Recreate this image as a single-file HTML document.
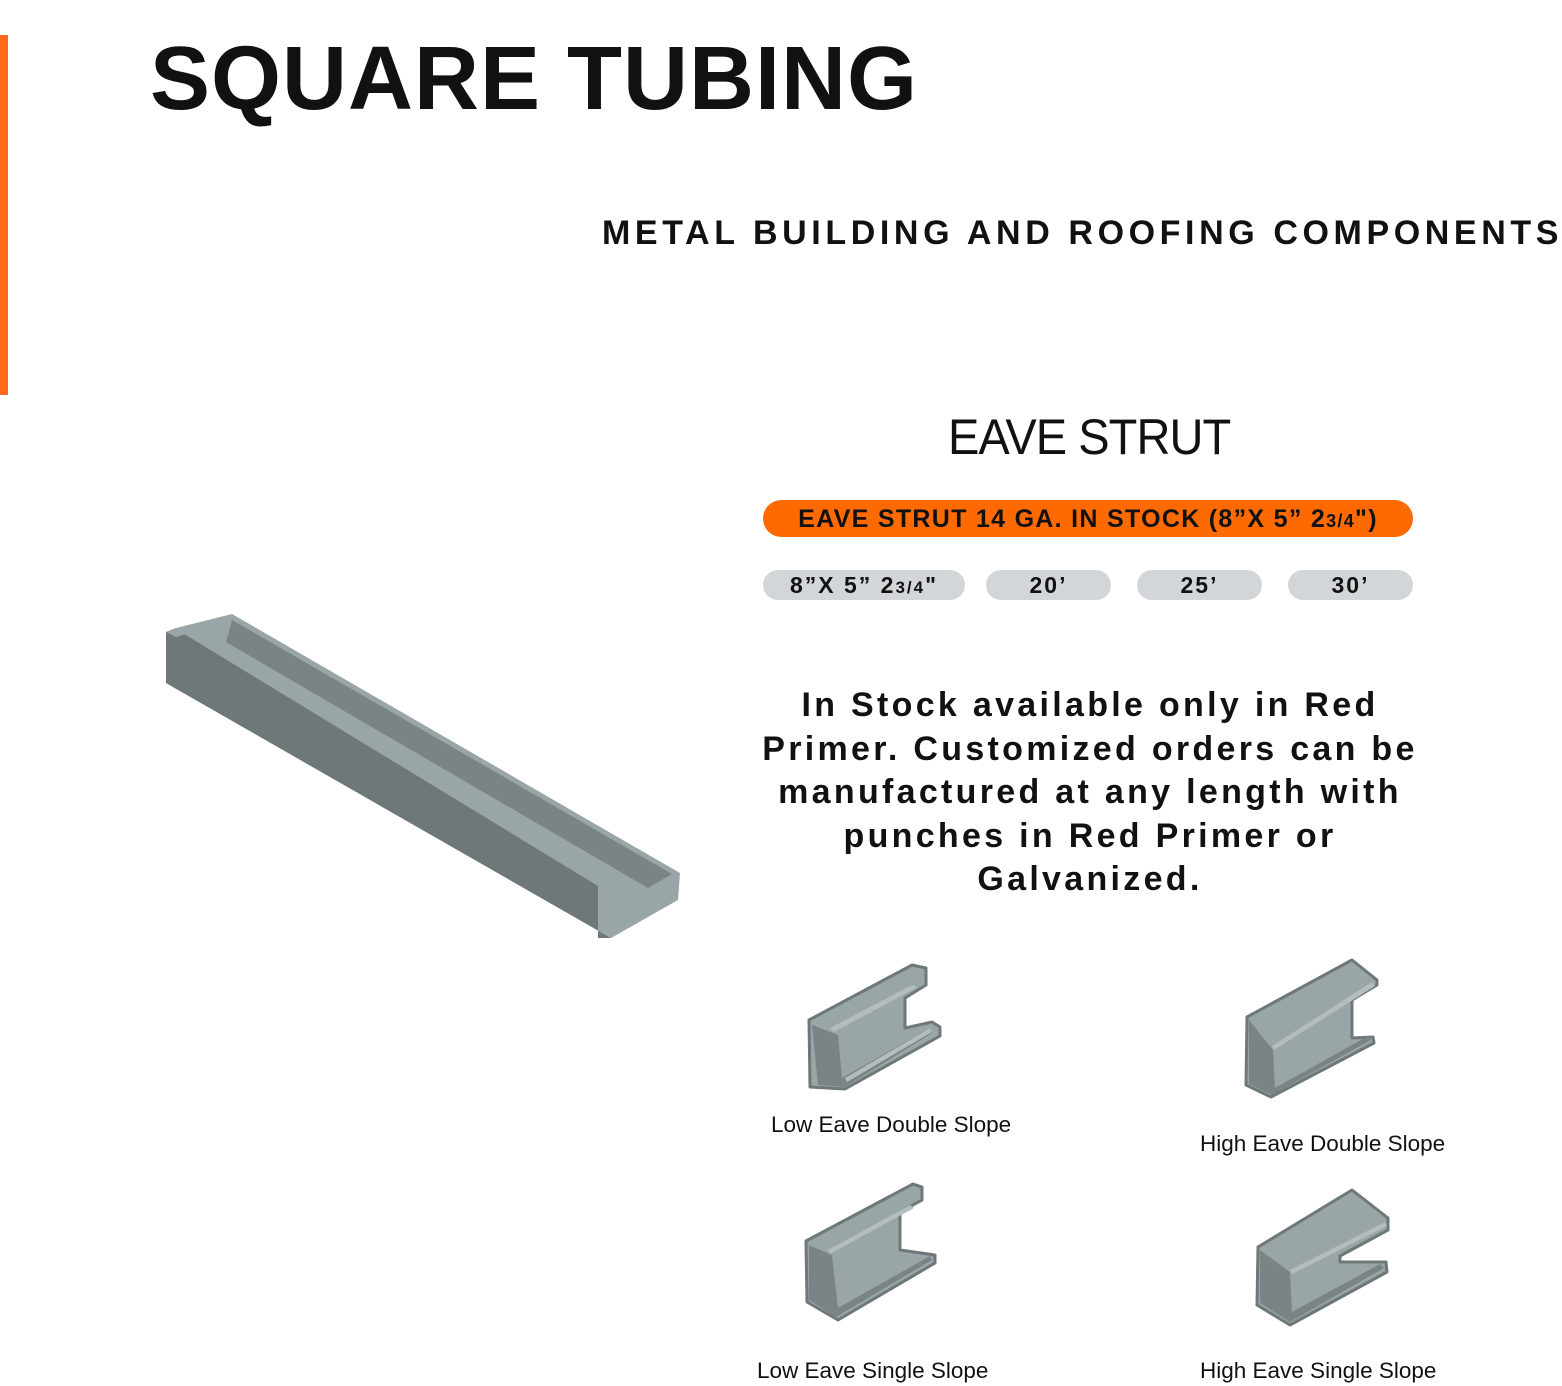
<!DOCTYPE html>
<html><head><style>
body{margin:0;width:1562px;height:1386px;background:#fff;position:relative;overflow:hidden;font-family:"Liberation Sans",sans-serif;color:#111}
.a{position:absolute;white-space:nowrap}
.pill{position:absolute;height:30px;top:570px;background:#d3d6d8;border-radius:15px;text-align:center;line-height:31px;font-size:23px;font-weight:bold;letter-spacing:2px}
</style></head><body>
<div class="a" style="left:0;top:35px;width:8px;height:360px;background:#ff6a1a"></div>
<div class="a" style="left:150px;top:28px;font-size:90px;font-weight:bold;letter-spacing:1px">SQUARE TUBING</div>
<div class="a" style="left:602px;top:214px;font-size:34px;font-weight:bold;letter-spacing:4.6px">METAL BUILDING AND ROOFING COMPONENTS</div>
<div class="a" style="left:948px;top:408px;font-size:50px;letter-spacing:-1px;transform:scaleX(0.94);transform-origin:left">EAVE STRUT</div>
<div class="a" style="left:763px;top:500px;width:650px;height:37px;background:#ff6a00;border-radius:19px;text-align:center;line-height:38px;font-size:25px;font-weight:bold;letter-spacing:1.3px">EAVE STRUT 14 GA. IN STOCK (8”X 5” 2<span style="font-size:18px">3/4</span>")</div>
<div class="pill" style="left:763px;width:202px">8”X 5” 2<span style="font-size:17px">3/4</span>"</div>
<div class="pill" style="left:986px;width:125px">20’</div>
<div class="pill" style="left:1137px;width:125px">25’</div>
<div class="pill" style="left:1288px;width:125px">30’</div>
<div class="a" style="left:690px;top:684px;width:800px;text-align:center;white-space:normal;font-size:34px;font-weight:bold;letter-spacing:3.3px;line-height:43.5px">In Stock available only in Red<br>Primer. Customized orders can be<br>manufactured at any length with<br>punches in Red Primer or<br>Galvanized.</div>
<div class="a" style="left:771px;top:1112px;font-size:22.5px">Low Eave Double Slope</div>
<div class="a" style="left:1200px;top:1131px;font-size:22.5px">High Eave Double Slope</div>
<div class="a" style="left:757px;top:1358px;font-size:22.5px">Low Eave Single Slope</div>
<div class="a" style="left:1200px;top:1358px;font-size:22.5px">High Eave Single Slope</div>
<svg class="a" style="left:0;top:0" width="1562" height="1386">
<polygon points="166,632 176,628 232,614 680,873 678,900 611,938 166,683" fill="#9aa5a8"/>
<polygon points="232,620 226,642 648,888 672,874" fill="#7a8385"/>
<polygon points="166,632 176,629 598,886 598,938 611,938 166,683" fill="#6e7878"/>
<polygon points="166,632 176,628 186,634 176,637" fill="#9aa5a8"/>
<g fill="#9aa5a8" stroke="#6e7878" stroke-width="3" stroke-linejoin="round">
<polygon points="809,1020 912,965 926,968 926,985 905,998 905,1028 932,1022 940,1027 940,1036 845,1089 810,1087"/>
<polygon points="1247,1017 1352,960 1377,980 1377,985 1352,1000 1352,1038 1373,1037 1374,1043 1271,1097 1246,1085"/>
<polygon points="806,1241 913,1184 922,1187 922,1200 900,1212 900,1250 935,1255 935,1263 838,1320 807,1302"/>
<polygon points="1258,1247 1352,1190 1388,1218 1388,1230 1340,1256 1340,1262 1386,1262 1387,1272 1290,1325 1257,1305"/>
</g>
<g fill="#7a8385">
<polygon points="812,1025 818,1085 845,1087 932,1033 930,1028 842,1078 838,1035"/>
<polygon points="1249,1020 1249,1084 1272,1095 1371,1040 1368,1036 1275,1088 1273,1050"/>
<polygon points="809,1245 809,1300 836,1317 932,1260 930,1256 838,1308 832,1255"/>
<polygon points="1260,1250 1260,1303 1290,1322 1384,1268 1380,1264 1292,1312 1290,1272"/>
</g>
<g fill="#b3bcbe">
<polygon points="830,1028 912,985 918,987 834,1032"/>
<polygon points="845,1078 930,1028 932,1032 847,1082"/>
<polygon points="1272,1046 1372,982 1375,986 1274,1050"/>
<polygon points="828,1250 910,1205 914,1208 830,1254"/>
<polygon points="1290,1270 1385,1222 1387,1226 1292,1274"/>
</g>
</svg>
</body></html>
